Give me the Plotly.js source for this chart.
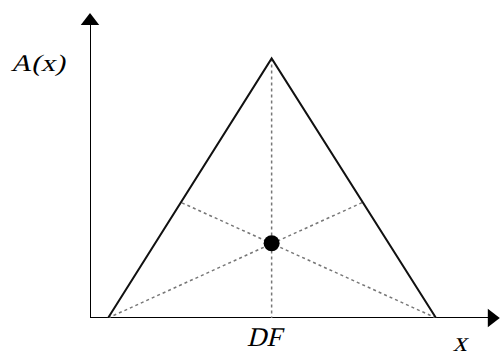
<!DOCTYPE html>
<html>
<head>
<meta charset="utf-8">
<script src="https://cdn.plot.ly/plotly-3.0.1.min.js"></script>
<style>
html,body{margin:0;padding:0;background:#fff;}
#chart{width:500px;height:356px;}
/* italic look: Liberation Serif has no italic face installed, so slant the upright face */
#chart .annotation-text{transform-box:fill-box;transform-origin:center;transform:skewX(-14deg);}
#chart .annotation[data-index="0"] .annotation-text{transform:skewX(-14deg) scaleX(1.2);}
</style>
</head>
<body>
<div id="chart"></div>
<script>
// Triangle (membership function) vertices: left foot, apex, right foot
const triX = [0.44, 4.43, 8.44];
const triY = [0, 8.51, 0];
// Points on the sides where the dotted medians end
const sidePtX = [2.22, 6.65];
const sidePtY = [3.79, 3.79];
// Centroid (DF)
const centroidX = [4.43];
const centroidY = [2.45];
// Axis extents
const axisXEnd = 9.8;
const axisYEnd = 9.74;
// Labels
const yLabel = "A(x)";
const xLabel = "x";
const dfLabel = "DF";

const black = "#000";
const dotted = {color: "#777", width: 1.5, dash: "dot"};

const traces = [
  // axes
  {x: [0, 0], y: [0, axisYEnd], mode: "lines", line: {color: black, width: 2}, hoverinfo: "skip"},
  {x: [-0.03, axisXEnd], y: [0, 0], mode: "lines", line: {color: black, width: 2}, hoverinfo: "skip"},
  {x: [0], y: [axisYEnd], mode: "markers", marker: {symbol: "triangle-up", size: 16, color: black}, cliponaxis: false, hoverinfo: "skip"},
  {x: [axisXEnd], y: [0], mode: "markers", marker: {symbol: "triangle-right", size: 16, color: black}, cliponaxis: false, hoverinfo: "skip"},
  // dotted medians
  {x: [triX[1], triX[1]], y: [triY[1], 0], mode: "lines", line: dotted, hoverinfo: "skip"},
  {x: [triX[0], sidePtX[1]], y: [triY[0], sidePtY[1]], mode: "lines", line: dotted, hoverinfo: "skip"},
  {x: [triX[2], sidePtX[0]], y: [triY[2], sidePtY[0]], mode: "lines", line: dotted, hoverinfo: "skip"},
  // triangle sides
  {x: triX, y: triY, mode: "lines", line: {color: "#111", width: 2}, hoverinfo: "skip"},
  // centroid
  {x: centroidX, y: centroidY, mode: "markers", marker: {size: 16, color: black}, hoverinfo: "skip"}
];

const serif = "Liberation Serif";

const layout = {
  width: 500, height: 356,
  margin: {l: 90, r: 0, t: 13, b: 38},
  paper_bgcolor: "#fff", plot_bgcolor: "#fff",
  font: {family: serif},
  showlegend: false,
  xaxis: {range: [0, 10], visible: false, fixedrange: true},
  yaxis: {range: [0, 10], visible: false, fixedrange: true},
  annotations: [
    {x: -0.124, y: 0.836, xref: "paper", yref: "paper", text: yLabel, showarrow: false,
     font: {family: serif, size: 24, color: "#000"}, xanchor: "center", yanchor: "middle"},
    {x: triX[1], y: -0.062, xref: "x", yref: "paper", xshift: -5, text: dfLabel, showarrow: false,
     font: {family: serif, size: 27, color: "#000"}, xanchor: "center", yanchor: "middle"},
    {x: 0.907, y: -0.078, xref: "paper", yref: "paper", text: xLabel, showarrow: false,
     font: {family: serif, size: 28, color: "#000"}, xanchor: "center", yanchor: "middle"}
  ]
};

Plotly.newPlot("chart", traces, layout, {staticPlot: true, displayModeBar: false});
</script>
</body>
</html>
